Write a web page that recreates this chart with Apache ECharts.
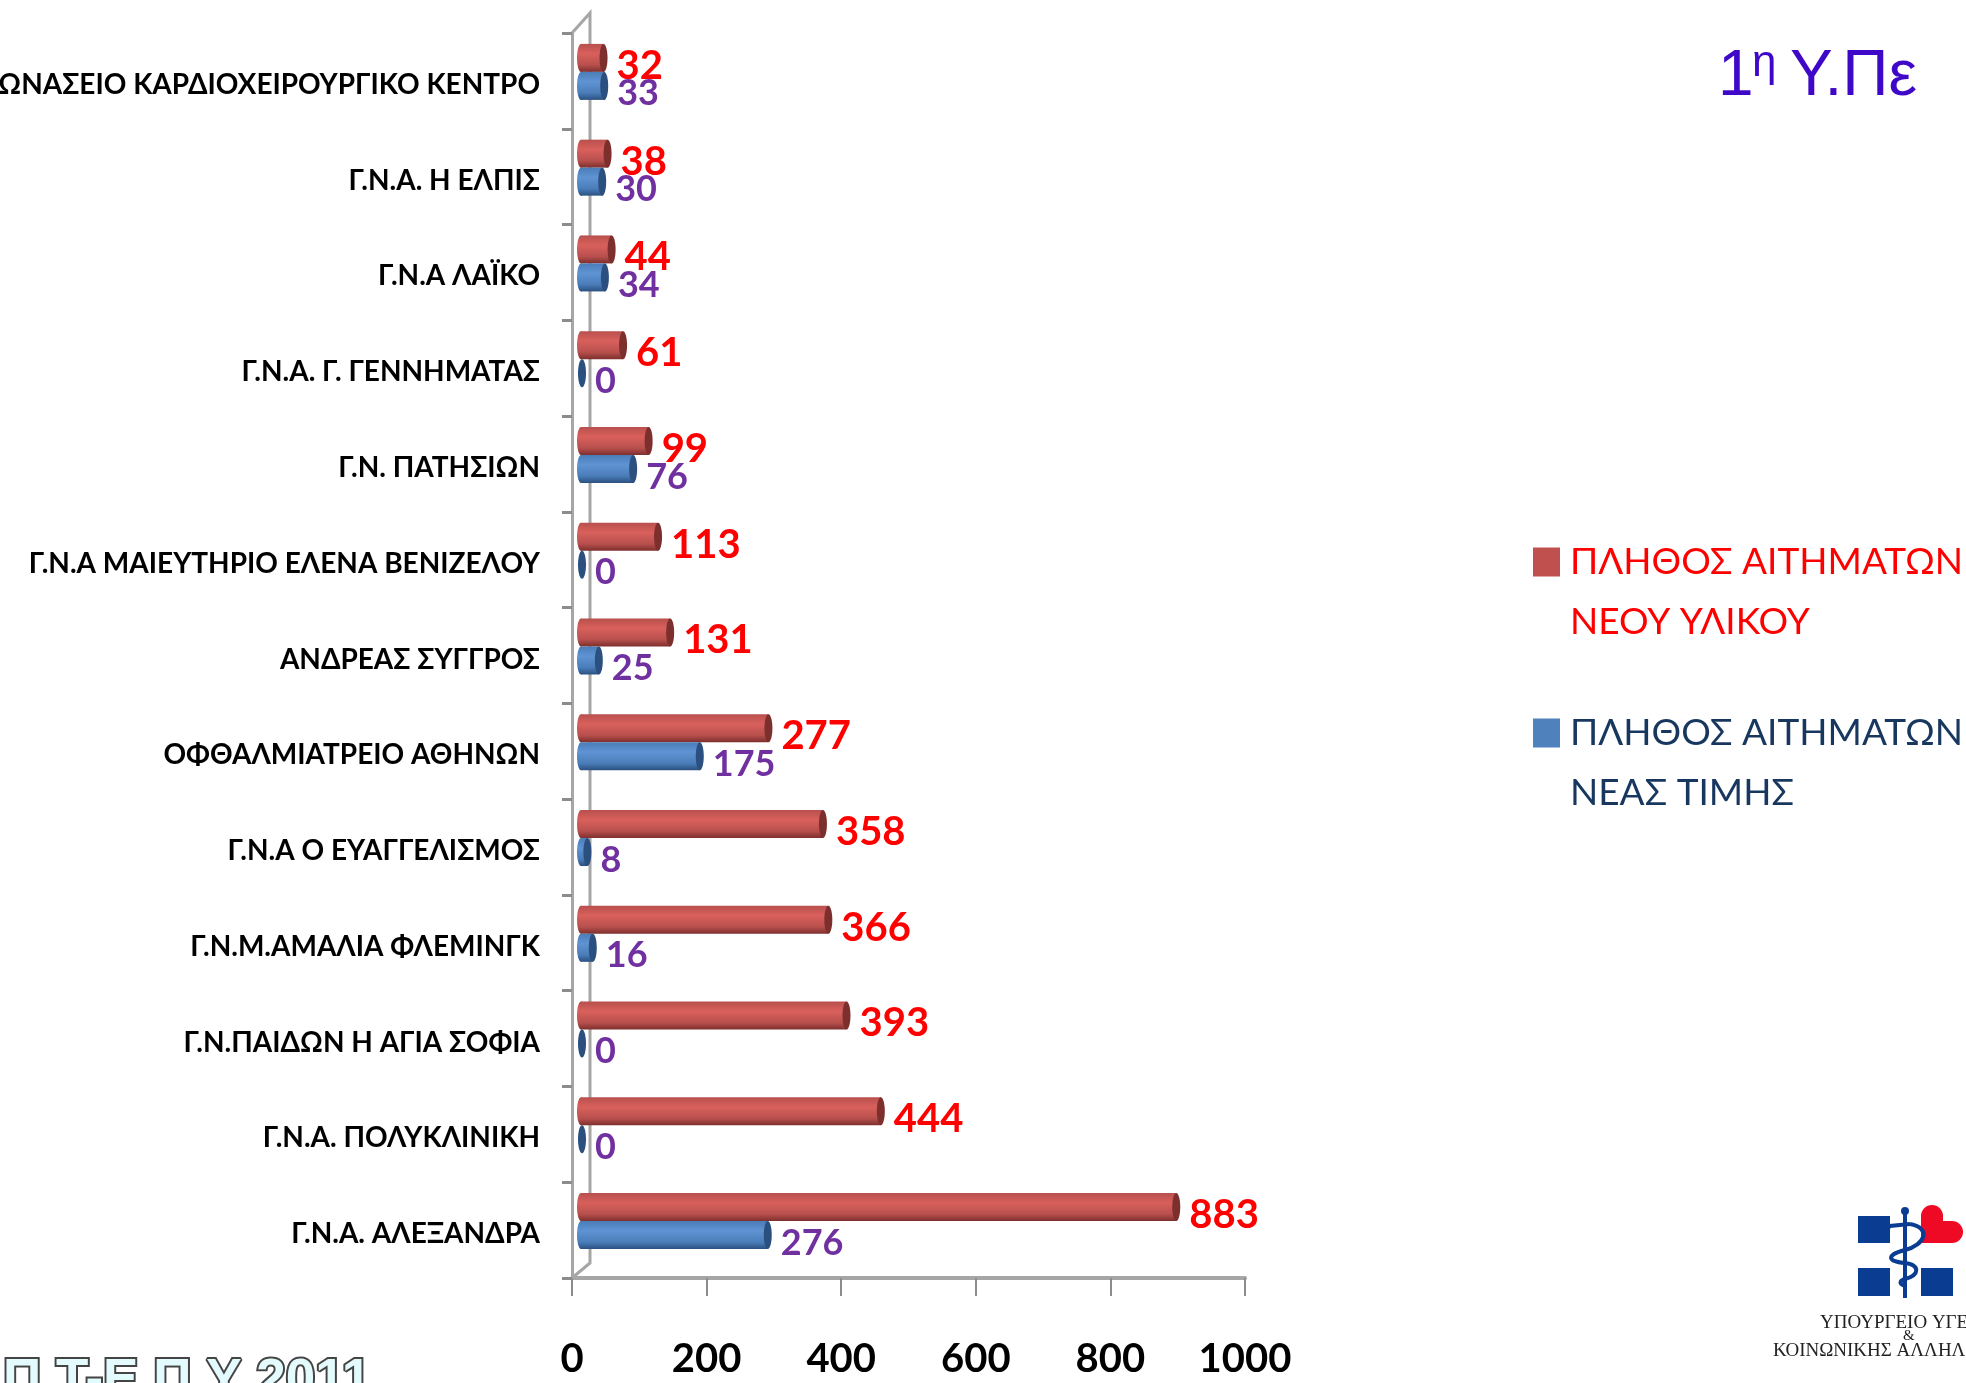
<!DOCTYPE html>
<html>
<head>
<meta charset="utf-8">
<title>1η Υ.Πε</title>
<script src="https://cdn.jsdelivr.net/npm/echarts@6/dist/echarts.min.js"></script>
<style>
  html, body { margin: 0; padding: 0; background: #fff; }
  #main { width: 1966px; height: 1383px; }
</style>
</head>
<body>
<div id="main"></div>
<script>
var categories = [
  'ΩΝΑΣΕΙΟ ΚΑΡΔΙΟΧΕΙΡΟΥΡΓΙΚΟ ΚΕΝΤΡΟ',
  'Γ.Ν.Α. Η ΕΛΠΙΣ',
  'Γ.Ν.Α ΛΑΪΚΟ',
  'Γ.Ν.Α. Γ. ΓΕΝΝΗΜΑΤΑΣ',
  'Γ.Ν. ΠΑΤΗΣΙΩΝ',
  'Γ.Ν.Α ΜΑΙΕΥΤΗΡΙΟ ΕΛΕΝΑ ΒΕΝΙΖΕΛΟΥ',
  'ΑΝΔΡΕΑΣ ΣΥΓΓΡΟΣ',
  'ΟΦΘΑΛΜΙΑΤΡΕΙΟ ΑΘΗΝΩΝ',
  'Γ.Ν.Α Ο ΕΥΑΓΓΕΛΙΣΜΟΣ',
  'Γ.Ν.Μ.ΑΜΑΛΙΑ ΦΛΕΜΙΝΓΚ',
  'Γ.Ν.ΠΑΙΔΩΝ Η ΑΓΙΑ ΣΟΦΙΑ',
  'Γ.Ν.Α. ΠΟΛΥΚΛΙΝΙΚΗ',
  'Γ.Ν.Α. ΑΛΕΞΑΝΔΡΑ'
];
var newMaterial = [32, 38, 44, 61, 99, 113, 131, 277, 358, 366, 393, 444, 883];
var newPrice = [33, 30, 34, 0, 76, 0, 25, 175, 8, 16, 0, 0, 276];
var newMaterialName = 'ΠΛΗΘΟΣ ΑΙΤΗΜΑΤΩΝ\nΝΕΟΥ ΥΛΙΚΟΥ';
var newPriceName = 'ΠΛΗΘΟΣ ΑΙΤΗΜΑΤΩΝ\nΝΕΑΣ ΤΙΜΗΣ';

var bodyFont = 'Lato';
var barHeight = 28;
var logoBlue = '#0a3d91';
var logoRed = '#ee0a24';

// κύλινδρος της μπάρας, με την τιμή δίπλα στο άκρο
var cylinder = function(colors, labelColor, labelSize, side, labelDy){
  return function(params, api){
    var value = api.value(0);
    var end = api.coord([value, api.value(1)]);
    var xEnd = end[0];
    var yTop = side < 0 ? end[1] - barHeight : end[1];
    var yMid = yTop + barHeight / 2;
    var xBase = params.coordSys.x - 5;
    var gradient = new echarts.graphic.LinearGradient(0, 0, 0, 1, [
      {offset: 0, color: colors[0]},
      {offset: 0.35, color: colors[1]},
      {offset: 0.75, color: colors[0]},
      {offset: 1, color: colors[2]}
    ]);
    var children = [];
    if (value > 0) {
      children.push({
        type: 'ellipse',
        shape: {cx: xBase, cy: yMid, rx: 4, ry: barHeight / 2},
        style: {fill: gradient}
      });
      children.push({
        type: 'rect',
        shape: {x: xBase, y: yTop, width: xEnd - 4 - xBase, height: barHeight},
        style: {fill: gradient}
      });
    }
    children.push({
      type: 'ellipse',
      shape: {cx: xEnd - 4, cy: yMid, rx: 4, ry: barHeight / 2},
      style: {fill: colors[2]}
    });
    children.push({
      type: 'text',
      style: {
        text: String(value),
        x: xEnd + 9,
        y: yMid + labelDy,
        fill: labelColor,
        fontFamily: bodyFont,
        fontWeight: 'bold',
        fontSize: labelSize,
        verticalAlign: 'middle'
      }
    });
    return {type: 'group', children: children};
  };
};

var titleText = function(text, x, y, size){
  return {type: 'text', style: {text: text, x: x, y: y, fill: '#3f07c8', fontFamily: 'Liberation Sans', fontSize: size, verticalAlign: 'bottom'}};
};
var logoText = function(text, x, y, size){
  return {type: 'text', style: {text: text, x: x, y: y, fill: '#222', fontFamily: 'Liberation Serif', fontSize: size}};
};
var snake = function(p){
  return {type: 'bezierCurve', shape: {x1: p[0], y1: p[1], cpx1: p[2], cpy1: p[3], cpx2: p[4], cpy2: p[5], x2: p[6], y2: p[7]}, style: {fill: 'none', stroke: logoBlue, lineWidth: 4}};
};

var myChart = echarts.init(document.getElementById('main'));

var option = {
  animation: false,
  backgroundColor: '#fff',
  legend: {
    orient: 'vertical',
    left: 1528,
    top: 467,
    itemWidth: 27,
    itemHeight: 29,
    itemGap: -9,
    selectedMode: false,
    icon: 'rect',
    formatter: function(name){ return '\n' + name; },
    data: [
      {name: newMaterialName, textStyle: {color: '#ff0000'}},
      {name: newPriceName, textStyle: {color: '#17375e'}}
    ],
    textStyle: {
      fontFamily: bodyFont,
      fontSize: 37,
      lineHeight: 60,
      padding: [0, 0, 0, 5]
    }
  },
  grid: [
    {left: 572, top: 33, width: 673, height: 1245, outerBoundsMode: 'none'},
    // οι μπάρες είναι μετατοπισμένες προς τον πίσω τοίχο
    {left: 586, top: 24, width: 673, height: 1245, outerBoundsMode: 'none'},
    // οι ετικέτες κατηγοριών είναι λίγο χαμηλότερα από το κέντρο της ζώνης
    {left: 572, top: 37, width: 673, height: 1245, outerBoundsMode: 'none'}
  ],
  xAxis: [
    {
      type: 'value',
      gridIndex: 0,
      position: 'bottom',
      min: 0,
      max: 1000,
      interval: 200,
      splitLine: {show: false},
      axisLine: {show: true, onZero: false, lineStyle: {color: '#a6a6a6', width: 4}},
      axisTick: {show: true, length: 18, lineStyle: {color: '#8c8c8c', width: 2}},
      axisLabel: {
        margin: 61,
        color: '#000',
        fontFamily: bodyFont,
        fontWeight: 'bold',
        fontSize: 40,
        formatter: function(value){ return String(value); }
      }
    },
    {type: 'value', gridIndex: 1, min: 0, max: 1000, show: false},
    {type: 'value', gridIndex: 2, min: 0, max: 1000, show: false}
  ],
  yAxis: [
    {
      type: 'category',
      gridIndex: 0,
      inverse: true,
      data: categories,
      axisLine: {show: true, lineStyle: {color: '#a6a6a6', width: 3}},
      axisTick: {show: true, length: 10, lineStyle: {color: '#8c8c8c', width: 3}},
      axisLabel: {show: false}
    },
    {type: 'category', gridIndex: 1, inverse: true, data: categories, show: false},
    {
      type: 'category',
      gridIndex: 2,
      inverse: true,
      data: categories,
      axisLine: {show: false},
      axisTick: {show: false},
      axisLabel: {
        margin: 32,
        color: '#000',
        fontFamily: bodyFont,
        fontWeight: 'bold',
        fontSize: 28
      }
    }
  ],
  series: [
    {
      name: newMaterialName,
      type: 'custom',
      xAxisIndex: 1,
      yAxisIndex: 1,
      encode: {x: 0, y: 1},
      clip: false,
      silent: true,
      itemStyle: {color: '#c0504d'},
      data: newMaterial.map(function(v, i){ return [v, categories[i]]; }),
      renderItem: cylinder(['#b8504d', '#d9605c', '#7d2f2d'], '#ff0000', 40, -1, 8)
    },
    {
      name: newPriceName,
      type: 'custom',
      xAxisIndex: 1,
      yAxisIndex: 1,
      encode: {x: 0, y: 1},
      clip: false,
      silent: true,
      itemStyle: {color: '#4f81bd'},
      data: newPrice.map(function(v, i){ return [v, categories[i]]; }),
      renderItem: cylinder(['#4a7db8', '#5f93d3', '#2b5080'], '#7030a0', 36, 1, 8)
    }
  ],
  graphic: [
    // πίσω τοίχος του τρισδιάστατου γραφήματος
    {
      type: 'polyline',
      z: 0,
      shape: {points: [[572, 33], [590, 13], [590, 1263], [572, 1278]]},
      style: {fill: 'none', stroke: '#a6a6a6', lineWidth: 3}
    },
    // τίτλος
    titleText('1', 1718, 109, 64),
    titleText('η', 1752, 86, 44),
    titleText('Υ.Πε', 1790, 109, 64),
    // υποσέλιδο
    {
      type: 'text',
      style: {
        text: 'Π Τ-Ε Π Υ 2011',
        x: 3,
        y: 1355,
        fill: '#e4fbfe',
        stroke: '#444',
        lineWidth: 4,
        fontFamily: 'Liberation Sans',
        fontWeight: 'bold',
        fontSize: 53
      }
    },
    // λογότυπο υπουργείου
    {type: 'rect', shape: {x: 1858, y: 1216, width: 32, height: 27}, style: {fill: logoBlue}},
    {type: 'rect', shape: {x: 1858, y: 1268, width: 32, height: 28}, style: {fill: logoBlue}},
    {type: 'rect', shape: {x: 1921, y: 1268, width: 32, height: 28}, style: {fill: logoBlue}},
    {type: 'circle', shape: {cx: 1932, cy: 1216, r: 11}, style: {fill: logoRed}},
    {type: 'circle', shape: {cx: 1952, cy: 1232, r: 11}, style: {fill: logoRed}},
    {type: 'polygon', shape: {points: [[1921, 1216], [1943, 1216], [1943, 1221], [1952, 1221], [1952, 1243], [1921, 1243]]}, style: {fill: logoRed}},
    {type: 'rect', shape: {x: 1903, y: 1212, width: 4, height: 86}, style: {fill: logoBlue}},
    {type: 'circle', shape: {cx: 1905, cy: 1211, r: 4}, style: {fill: logoBlue}},
    {type: 'polyline', shape: {points: [[1879, 1238], [1890, 1226], [1910, 1224]]}, style: {fill: 'none', stroke: logoBlue, lineWidth: 4}},
    snake([1910, 1224, 1932, 1228, 1925, 1245, 1905, 1250]),
    snake([1905, 1250, 1885, 1255, 1888, 1262, 1905, 1263]),
    snake([1905, 1263, 1920, 1265, 1920, 1275, 1905, 1279]),
    snake([1905, 1279, 1899, 1281, 1899, 1284, 1905, 1286]),
    logoText('ΥΠΟΥΡΓΕΙΟ ΥΓΕΙΑΣ', 1820, 1314, 19),
    logoText('&', 1903, 1329, 15),
    logoText('ΚΟΙΝΩΝΙΚΗΣ ΑΛΛΗΛΕΓΓΥΗΣ', 1773, 1342, 19)
  ]
};

myChart.setOption(option);
</script>
</body>
</html>
